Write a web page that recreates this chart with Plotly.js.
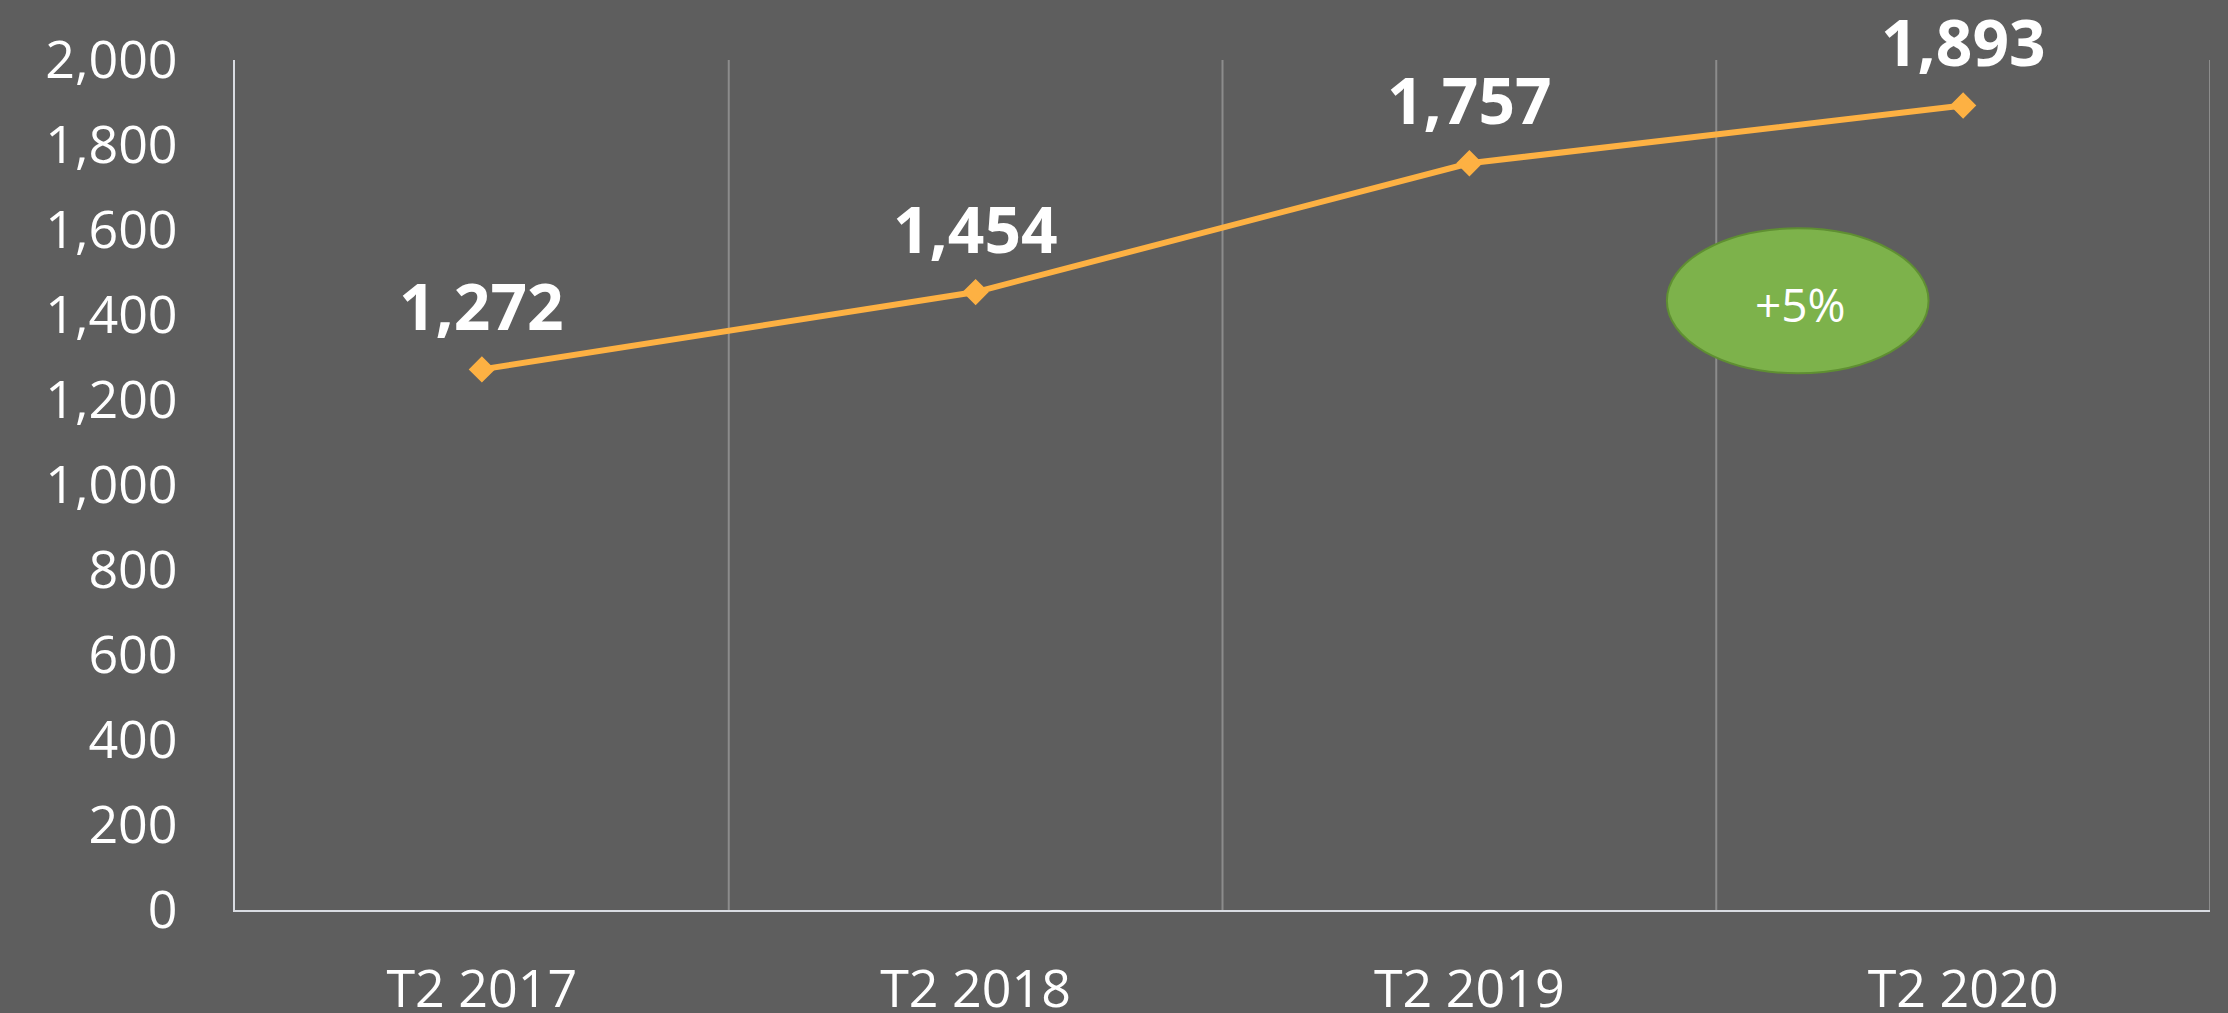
<!DOCTYPE html>
<html>
<head>
<meta charset="utf-8">
<script src="https://cdn.plot.ly/plotly-3.0.1.min.js"></script>
<style>
  html, body { margin: 0; padding: 0; background: #5e5e5e; }
  #chart { width: 2228px; height: 1013px; }
</style>
</head>
<body>
<div id="chart"></div>
<script>
const categories = ["T2 2017", "T2 2018", "T2 2019", "T2 2020"];
const values = [1272, 1454, 1757, 1893];
const yTickValues = [0, 200, 400, 600, 800, 1000, 1200, 1400, 1600, 1800, 2000];
const badgeText = "+5%";

const xIdx = categories.map((c, i) => i);

const trace = {
  x: xIdx,
  y: values,
  type: "scatter",
  mode: "lines+markers",
  line: { color: "#fdb143", width: 6 },
  marker: { symbol: "diamond", size: 17, color: "#fdb143", line: { color: "#fdb143", width: 3 } },
  hoverinfo: "skip",
  showlegend: false
};

const labelAnnotations = values.map((v, i) => ({
  x: i, y: v, xref: "x", yref: "y",
  text: v.toLocaleString("en-US"),
  showarrow: false,
  yshift: 64,
  font: { family: "Open Sans, sans-serif", size: 64, color: "#ffffff", weight: 700 }
}));

const layout = {
  width: 2228,
  height: 1013,
  paper_bgcolor: "#5e5e5e",
  plot_bgcolor: "#5e5e5e",
  margin: { l: 235, r: 18, t: 60, b: 103 },
  font: { family: "Open Sans, sans-serif", color: "#ffffff" },
  xaxis: {
    range: [-0.5, 3.5],
    tickmode: "array",
    tickvals: xIdx,
    ticktext: categories,
    showgrid: false,
    zeroline: false,
    showline: true,
    linecolor: "#d9dce2",
    linewidth: 2,
    ticks: "",
    ticklabelstandoff: 33,
    tickfont: { family: "Open Sans, sans-serif", size: 52, color: "#ffffff" }
  },
  yaxis: {
    range: [0, 2000],
    tickmode: "array",
    tickvals: yTickValues,
    ticktext: yTickValues.map(v => v.toLocaleString("en-US")),
    showgrid: false,
    zeroline: false,
    showline: true,
    linecolor: "#d9dce2",
    linewidth: 2,
    ticks: "",
    ticklabelstandoff: 45,
    tickfont: { family: "Open Sans, sans-serif", size: 52, color: "#ffffff" }
  },
  shapes: [
    ...[0.5, 1.5, 2.5, 3.5].map(b => ({
      type: "line", xref: "x", yref: "paper", x0: b, x1: b, y0: 0, y1: 1,
      line: { color: "#8c8c8c", width: 2 }, layer: "below"
    })),
    {
      type: "circle", xref: "x", yref: "y",
      x0: 2.40, x1: 2.93, y0: 1263, y1: 1604,
      fillcolor: "#7db24b",
      line: { color: "#5f8f32", width: 2 }
    }
  ],
  annotations: [
    ...labelAnnotations,
    {
      x: 2.67, y: 1425, xref: "x", yref: "y",
      text: badgeText, showarrow: false,
      font: { family: "Open Sans, sans-serif", size: 46, color: "#ffffff" }
    }
  ]
};

Plotly.newPlot("chart", [trace], layout, { displayModeBar: false, staticPlot: true });
</script>
</body>
</html>
